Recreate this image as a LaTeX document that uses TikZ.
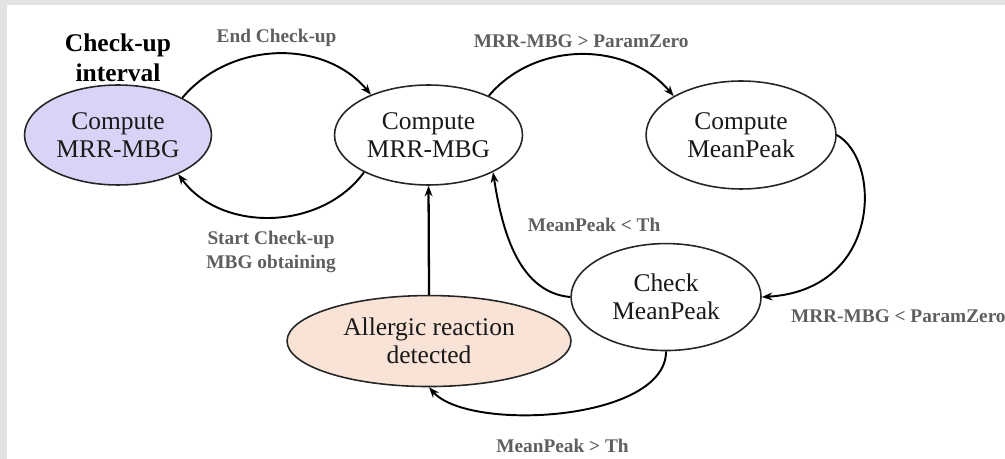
\documentclass[tikz,border=0pt]{standalone}
\usepackage{fontspec}
\setmainfont{Liberation Serif}
\usetikzlibrary{positioning, arrows.meta, shapes.geometric}
\definecolor{lavender}{RGB}{219,211,247}
\definecolor{peach}{RGB}{248,227,214}
\definecolor{lblgray}{RGB}{95,95,95}
\definecolor{framegray}{RGB}{227,227,227}

\begin{document}
\begin{tikzpicture}[
        x=0.02cm, y=-0.02cm,
        state/.style={ellipse, draw=black!85, line width=0.9pt, fill=white, align=center, inner sep=0pt, font=\fontsize{14.5}{16}\selectfont, text=black!90},
        lbl/.style={font=\bfseries\fontsize{11}{13.5}\selectfont, text=lblgray, align=center},
        arrow/.style={-{Stealth[length=6pt, width=4.5pt]}, line width=1.1pt}
    ]
        % Frame
        \fill[framegray] (0,0) rectangle (1005,459);
        \fill[white] (7,5) rectangle (1005,459);
        \useasboundingbox (0,0) rectangle (1005,459);

        % States
        \node[state, fill=lavender, minimum width=3.74cm, minimum height=2cm] (lcomp) at (118,135) {Compute\\MRR-MBG};
        \node[state, minimum width=3.76cm, minimum height=2cm, right=2.43cm of lcomp] (mcomp) {Compute\\MRR-MBG};
        \node[state, minimum width=3.8cm, minimum height=2.16cm, right=2.44cm of mcomp] (rcomp) {Compute\\MeanPeak};
        \node[state, minimum width=3.8cm, minimum height=2.14cm, below=1.06cm of rcomp, xshift=-1.5cm] (check) {Check\\MeanPeak};
        \node[state, fill=peach, minimum width=5.68cm, minimum height=1.82cm, below=2.18cm of mcomp, xshift=0.01cm] (allergy) {Allergic reaction\\detected};

        % Title over the first state
        \node[above=0.05cm of lcomp, inner sep=0pt, align=center, font=\bfseries\fontsize{14.5}{17}\selectfont] (interval) {Check-up\\interval};

        % Transitions
        \draw[arrow] (lcomp.30) to[out=50, in=130] node[lbl, midway, above=0pt] {End Check-up} (mcomp.145);
        \draw[arrow] (mcomp.210) to[out=-126, in=-54] node[lbl, midway, below=4pt] {Start Check-up\\MBG obtaining} (lcomp.-33);
        \draw[arrow] (mcomp.33) to[out=50, in=130] node[lbl, midway, above=0pt] {MRR-MBG > ParamZero} (rcomp.150);
        \draw[arrow] (rcomp.east) .. controls +(45,25) and +(120,-7) .. (check.east);
        \draw[arrow] (check.west) .. controls +(-55,-5) and +(8,50) .. (mcomp.-30);
        \draw[arrow] (check.south) .. controls +(0,70) and +(40,45) .. node[lbl, midway, below=0.4cm] {MeanPeak > Th} (allergy.south);
        \draw[arrow, line width=1.3pt] (allergy.north) -- (mcomp.south);

        % Conditions beside the check state
        \node[lbl, above=0.1cm of check, xshift=-1.44cm] (lowpeak) {MeanPeak < Th};
        \node[lbl, right=0.46cm of check, yshift=-0.39cm] (lowzero) {MRR-MBG < ParamZero};
    \end{tikzpicture}
\end{document}
